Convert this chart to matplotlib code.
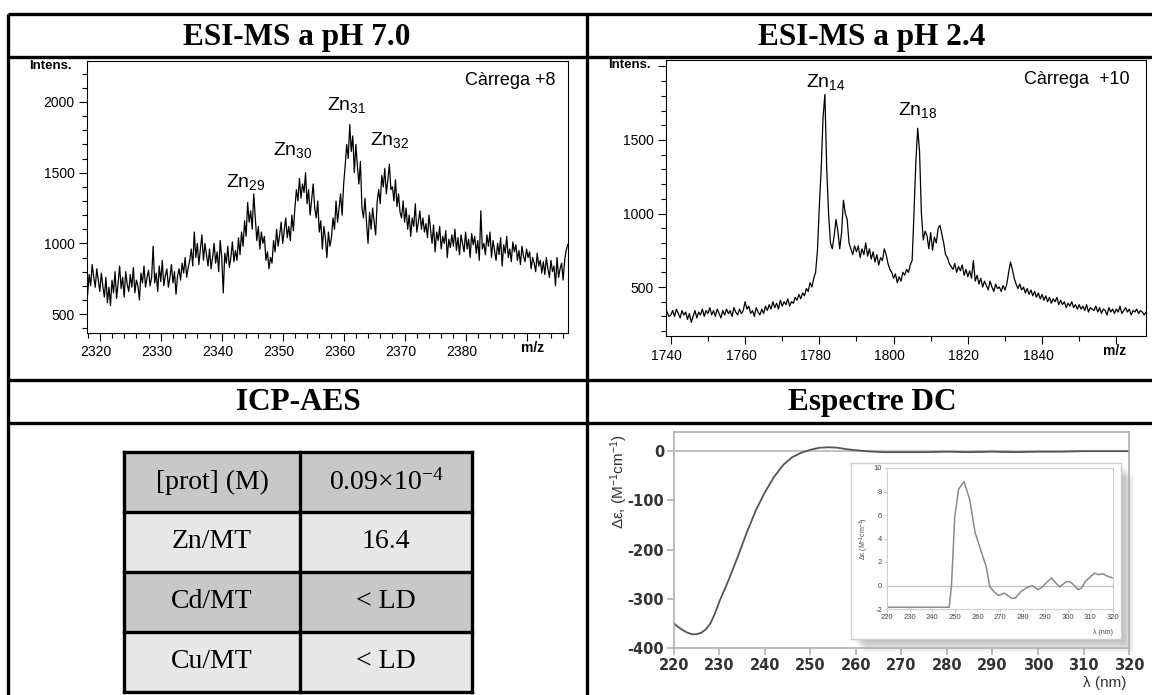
import numpy as np
import matplotlib
matplotlib.use('Agg')
import matplotlib.pyplot as plt
from matplotlib.patches import Rectangle
from matplotlib.ticker import MultipleLocator, FuncFormatter
from matplotlib.transforms import ScaledTranslation

plt.rcParams['font.family'] = ['Liberation Sans', 'DejaVu Sans']
plt.rcParams['mathtext.default'] = 'regular'
plt.rcParams['axes.unicode_minus'] = False

AMPLE, ALT = 1152, 695

# --- ESI-MS a pH 7.0 (càrrega +8): un punt cada 0.25 m/z des de 2318 ---
MZ7_INICI, MZ7_PAS = 2318.0, 0.25
intens_ph7 = [
    640, 780, 700, 850, 760, 690, 820, 740, 660, 790, 700, 620, 760, 580, 690, 560, 740, 650, 800, 610,
    720, 840, 680, 760, 620, 800, 710, 660, 780, 690, 830, 650, 740, 700, 600, 790, 720, 840, 690, 760,
    810, 700, 760, 980, 720, 790, 660, 840, 730, 880, 700, 770, 820, 690, 760, 850, 720, 800, 640, 770,
    820, 740, 860, 790, 900, 760, 830, 880, 960, 840, 1080, 900, 1000, 850, 960, 1060, 880, 1000, 920, 840,
    960, 820, 900, 1000, 860, 940, 800, 1020, 900, 650, 930, 860, 980, 830, 900, 1010, 870, 950, 880, 1040,
    920, 1080, 980, 1160, 1050, 1290, 1150, 1230, 1100, 1350, 1180, 1020, 1120, 960, 1080, 1000, 1050, 880, 940, 820,
    900, 860, 1020, 940, 1100, 980, 1060, 1150, 1000, 1090, 1180, 1040, 1120, 1020, 1200, 1090, 1250, 1380, 1300, 1460,
    1320, 1420, 1360, 1500, 1280, 1380, 1200, 1310, 1420, 1250, 1180, 1300, 1080, 1160, 960, 1120, 1040, 900, 1080, 980,
    1040, 1180, 1100, 1300, 1150, 1250, 1350, 1200, 1420, 1550, 1700, 1600, 1840, 1650, 1760, 1500, 1700, 1550, 1420, 1580,
    1250, 1180, 1320, 1150, 1000, 1220, 1100, 1250, 1150, 1060, 1300, 1380, 1280, 1480, 1400, 1530, 1350, 1450, 1560, 1380,
    1400, 1300, 1450, 1260, 1350, 1220, 1180, 1300, 1150, 1250, 1100, 1200, 1050, 1180, 1120, 1280, 1080, 1150, 1230, 1100,
    1180, 1080, 1140, 1040, 1200, 1100, 1000, 1130, 940, 1080, 1020, 1120, 960, 1050, 1000, 1090, 900, 1030, 970, 1060,
    980, 1100, 950, 1040, 920, 1060, 1000, 940, 1080, 960, 1030, 900, 1070, 990, 1050, 930, 1020, 880, 1230, 960,
    1000, 920, 1060, 980, 1080, 900, 1020, 950, 880, 1000, 920, 1040, 840, 990, 930, 1050, 900, 960, 870, 1010,
    940, 990, 880, 950, 850, 980, 910, 870, 960, 900, 940, 820, 900, 860, 800, 930, 840, 880, 790, 870,
    780, 900, 820, 760, 880, 800, 840, 700, 900, 760, 820, 860, 740, 880, 950, 990,
]
etiq_ph7 = ['Zn$_{29}$', 'Zn$_{30}$', 'Zn$_{31}$', 'Zn$_{32}$']
etiq_ph7_mz = [2343.9, 2351.7, 2360.5, 2367.5]
etiq_ph7_int = [1434, 1658, 1976, 1729]

# --- ESI-MS a pH 2.4 (càrrega +10): un punt cada 0.5 m/z des de 1739 ---
MZ24_INICI, MZ24_PAS = 1739.0, 0.5
intens_ph24 = [
    330, 300,
    310, 340, 300, 350, 320, 290, 340, 310, 330, 280,
    320, 260, 300, 340, 290, 330, 310, 350, 300, 340,
    320, 360, 310, 340, 300, 350, 320, 290, 340, 310,
    350, 320, 340, 300, 360, 330, 310, 350, 320, 340,
    400, 350, 370, 320, 340, 300, 360, 330, 310, 350,
    320, 370, 340, 380, 350, 400, 360, 390, 350, 410,
    370, 400, 380, 420, 370, 400, 390, 430, 410, 450,
    420, 460, 440, 490, 470, 530, 500, 560, 600, 750,
    1050, 1300, 1650, 1810, 1300, 1000, 800, 760, 850, 960,
    880, 760, 870, 1090, 1000, 960, 800, 760, 720, 780,
    740, 780, 700, 760, 720, 800, 710, 760, 690, 740,
    670, 720, 650, 700, 680, 760, 720, 660, 620, 600,
    560, 590, 530, 570, 540, 600, 580, 620, 600, 650,
    680, 1000, 1350, 1580, 1420, 1000, 820, 880, 850, 760,
    870, 750, 840, 800, 900, 920, 860, 800, 720, 700,
    660, 640, 620, 660, 600, 640, 610, 650, 580, 620,
    570, 610, 560, 680, 540, 580, 520, 560, 500, 540,
    510, 480, 540, 500, 470, 520, 490, 500, 470, 510,
    480, 520, 600, 670, 620, 560, 520, 490, 520, 480,
    500, 460, 490, 450, 480, 440, 470, 430, 460, 420,
    450, 410, 440, 400, 430, 390, 420, 400, 430, 380,
    410, 380, 400, 360, 390, 370, 400, 360, 380, 350,
    380, 350, 370, 340, 380, 330, 360, 350, 340, 370,
    330, 360, 320, 350, 340, 310, 360, 330, 350, 320,
    350, 330, 370, 320, 340, 360, 330, 350, 310, 340,
    330, 350, 320, 340, 330, 310, 330,
]
etiq_ph24 = ['Zn$_{14}$', 'Zn$_{18}$']
etiq_ph24_mz = [1781.8, 1806.6]
etiq_ph24_int = [1897, 1704]

# --- ICP-AES ---
icp_files = ['[prot] (M)', 'Zn/MT', 'Cd/MT', 'Cu/MT']
icp_valors = ['0.09×10$^{-4}$', '16.4', '< LD', '< LD']

# --- Espectre DC ---
dc_lambda = [220, 221, 222, 223, 224, 225, 226, 227, 228, 229, 230, 232, 234, 236,
             238, 240, 242, 244, 246, 248, 250, 252, 254, 256, 258, 260, 262, 264,
             266, 270, 275, 280, 285, 290, 295, 300, 305, 310, 315, 320]
dc_delta = [-350, -358, -364, -369, -372, -372, -369, -362, -350, -330, -305, -262,
            -215, -165, -120, -83, -52, -28, -12, -3, 3, 7, 8, 7, 4, 2, 0, -1,
            -2, -2, -2, -1, -2, -1, -2, -1, -1, 0, 0, 0]
# detall (requadre)
ins_lambda = [220, 247.5, 248.5, 250, 251.7, 254.1, 256.6, 259, 261.5, 263.9, 265.5,
              267.2, 269.3, 272, 273.7, 275.3, 276.9, 279.3, 281.8, 284.2, 286.7,
              288.3, 290.7, 292.8, 294.8, 296.4, 298.9, 300.5, 302.1, 304.6, 306.2,
              307.8, 309.4, 311.9, 313.5, 315.4, 317.6, 320]
ins_delta = [-1.85, -1.85, -0.1, 5.9, 8.2, 8.85, 7.3, 4.5, 3.0, 1.6, -0.1,
             -0.5, -0.85, -0.65, -0.9, -1.1, -1.05, -0.5, -0.2, 0.0, -0.35,
             -0.2, 0.27, 0.64, 0.2, -0.13, 0.27, 0.35, 0.16, -0.35, -0.2,
             0.35, 0.64, 1.06, 0.92, 1.0, 0.78, 0.64]


def a_fig(esq, dalt, dreta, baix):
    # caixa en píxels (origen a dalt a l'esquerra) -> coordenades de figura
    return [esq / AMPLE, 1 - baix / ALT, (dreta - esq) / AMPLE, (baix - dalt) / ALT]


def panell_ms(caixa, mz, intens, xlim, ylim, xmaj, xmin, amaga_x, amaga_y, pos_mz):
    ax = fig.add_axes(a_fig(*caixa))
    ax.plot(mz, intens, color='black', lw=0.9)
    ax.set_xlim(*xlim)
    ax.set_ylim(*ylim)
    ax.xaxis.set_major_locator(MultipleLocator(xmaj))
    ax.xaxis.set_minor_locator(MultipleLocator(xmin))
    ax.yaxis.set_major_locator(MultipleLocator(500))
    ax.yaxis.set_minor_locator(MultipleLocator(100))
    ax.xaxis.set_major_formatter(FuncFormatter(lambda v, p: '' if v >= amaga_x else f'{v:.0f}'))
    ax.yaxis.set_major_formatter(FuncFormatter(lambda v, p: '' if v >= amaga_y else f'{v:.0f}'))
    ax.tick_params(which='major', length=6, width=0.8, labelsize=10, pad=3)
    ax.tick_params(which='minor', length=3.5, width=0.8)
    for s in ax.spines.values():
        s.set_linewidth(0.8)
    # les etiquetes de l'eix x queden una mica a l'esquerra de la marca
    desplaca = ScaledTranslation(-4 / 100, 0, fig.dpi_scale_trans)
    for tick in ax.xaxis.get_major_ticks():
        tick.label1.set_transform(tick.label1.get_transform() + desplaca)
    ax.annotate('Intens.', xy=(0, 1), xycoords='axes fraction', xytext=(-15, -5),
                textcoords='offset pixels', ha='right', va='center',
                fontsize=9.5, fontweight='bold')
    ax.annotate('m/z', xy=(pos_mz, 0), xycoords=('data', 'axes fraction'),
                xytext=(0, -15), textcoords='offset pixels', ha='center', va='center',
                fontsize=10, fontweight='bold')
    return ax


fig = plt.figure(figsize=(AMPLE / 100, ALT / 100), dpi=100)

# ---- graella de la taula general i títols ----
fons = fig.add_axes([0, 0, 1, 1], zorder=-1)
fons.set_xlim(0, AMPLE)
fons.set_ylim(ALT, 0)
fons.axis('off')

gruix = 2.4
for y in [13.5, 57, 380, 423]:
    fons.plot([8, AMPLE], [y, y], color='black', lw=gruix, solid_capstyle='butt')
for x in [8, 587]:
    fons.plot([x, x], [13.5, ALT], color='black', lw=gruix, solid_capstyle='butt')

titol = dict(ha='center', va='baseline', family='Liberation Serif', fontweight='bold', fontsize=22.5)
fons.text(297, 44.5, 'ESI-MS a pH 7.0', **titol)
fons.text(872, 44.5, 'ESI-MS a pH 2.4', **titol)
fons.text(298, 410, 'ICP-AES', **titol)
fons.text(872, 410, 'Espectre DC', **titol)

# ---- ICP-AES ----
col = [124, 300, 472]
fila_dalt, fila_h = 452, 60
colors_fila = ['#c8c8c8', '#e8e8e8', '#c8c8c8', '#e8e8e8']
for i, (nom, valor) in enumerate(zip(icp_files, icp_valors)):
    y0 = fila_dalt + i * fila_h
    fons.add_patch(Rectangle((col[0], y0), col[2] - col[0], fila_h,
                             facecolor=colors_fila[i], edgecolor='none'))
    fons.text((col[0] + col[1]) / 2, y0 + fila_h / 2, nom, ha='center', va='center',
              family='Liberation Serif', fontsize=20)
    fons.text((col[1] + col[2]) / 2, y0 + fila_h / 2, valor, ha='center', va='center',
              family='Liberation Serif', fontsize=20)
for i in range(len(icp_files) + 1):
    y = fila_dalt + i * fila_h
    fons.plot([col[0], col[2]], [y, y], color='black', lw=gruix, solid_capstyle='projecting')
for x in col:
    fons.plot([x, x], [fila_dalt, fila_dalt + len(icp_files) * fila_h], color='black',
              lw=gruix, solid_capstyle='projecting')

# ombra del requadre del DC
for k in range(1, 15):
    fons.add_patch(Rectangle((851 + k, 463 + k), 270, 176, facecolor='black',
                             edgecolor='none', alpha=0.018))

# ---- ESI-MS ----
mz_ph7 = MZ7_INICI + MZ7_PAS * np.arange(len(intens_ph7))
ax1 = panell_ms((87, 61, 568, 333), mz_ph7, intens_ph7, (2317.9, 2396.8), (366, 2290),
                10, 2, 2385, 2400, 2391)
for t, x, y in zip(etiq_ph7, etiq_ph7_mz, etiq_ph7_int):
    ax1.text(x, y, t, ha='center', va='center', fontsize=14)
ax1.text(2394.7, 2153, 'Càrrega +8', ha='right', va='center', fontsize=13)

mz_ph24 = MZ24_INICI + MZ24_PAS * np.arange(len(intens_ph24))
ax2 = panell_ms((666, 60, 1146, 336), mz_ph24, intens_ph24, (1738.7, 1868), (167, 2044),
                20, 10, 1850, 1950, 1859.4)
for t, x, y in zip(etiq_ph24, etiq_ph24_mz, etiq_ph24_int):
    ax2.text(x, y, t, ha='center', va='center', fontsize=14)
ax2.text(1863.7, 1908, 'Càrrega  +10', ha='right', va='center', fontsize=13)

# ---- Espectre DC ----
gris = '#b0b0b0'
ax3 = fig.add_axes(a_fig(674, 432, 1129, 648), facecolor='none')
ax3.axhline(0, color='#bdbdbd', lw=1.3, zorder=0)
ax3.plot(dc_lambda, dc_delta, color='#555555', lw=1.3)
ax3.set_xlim(220, 320)
ax3.set_ylim(-400, 39)
ax3.set_xticks(range(220, 321, 10))
ax3.set_yticks([-400, -300, -200, -100, 0])
for s in ax3.spines.values():
    s.set_color(gris)
    s.set_linewidth(1.2)
ax3.tick_params(color=gris, labelcolor='#333333', length=5, width=1.2, pad=2)
for lab in ax3.get_xticklabels() + ax3.get_yticklabels():
    lab.set_family('DejaVu Sans')
    lab.set_fontweight('bold')
    lab.set_fontsize(10.5)
fig.text(619 / AMPLE, 1 - 481 / ALT, 'Δε, (M$^{-1}$cm$^{-1}$)', rotation=90,
         ha='center', va='center', fontsize=11, color='#333333')
fig.text(1105 / AMPLE, 1 - 683 / ALT, 'λ (nm)', ha='center', va='center',
         fontsize=11, color='#333333')

caixa_ins = fig.add_axes(a_fig(851, 463, 1121, 639), zorder=3)
caixa_ins.set_facecolor('white')
caixa_ins.set_xticks([])
caixa_ins.set_yticks([])
for s in caixa_ins.spines.values():
    s.set_color('#cfcfcf')
    s.set_linewidth(1.0)

ax4 = fig.add_axes(a_fig(887, 468, 1113, 609), zorder=4, facecolor='none')
ax4.axhline(0, color='#c4c4c4', lw=1.0, zorder=0)
ax4.plot(ins_lambda, ins_delta, color='#8a8a8a', lw=1.1)
ax4.set_xlim(220, 320)
ax4.set_ylim(-2, 10)
ax4.set_xticks(range(220, 321, 10))
ax4.set_yticks(range(-2, 11, 2))
for s in ax4.spines.values():
    s.set_color('#cfcfcf')
ax4.tick_params(color='#cfcfcf', labelcolor='#444444', length=2, width=0.8,
                labelsize=5.5, pad=1.5)
ax4.set_ylabel('Δε (M$^{-1}$cm$^{-1}$)', fontsize=5, color='#444444', labelpad=2)
ax4.text(1.0, -0.17, 'λ (nm)', transform=ax4.transAxes, ha='right', va='center',
         fontsize=5, color='#444444')

fig.savefig('out.png', dpi=100)
plt.close(fig)
